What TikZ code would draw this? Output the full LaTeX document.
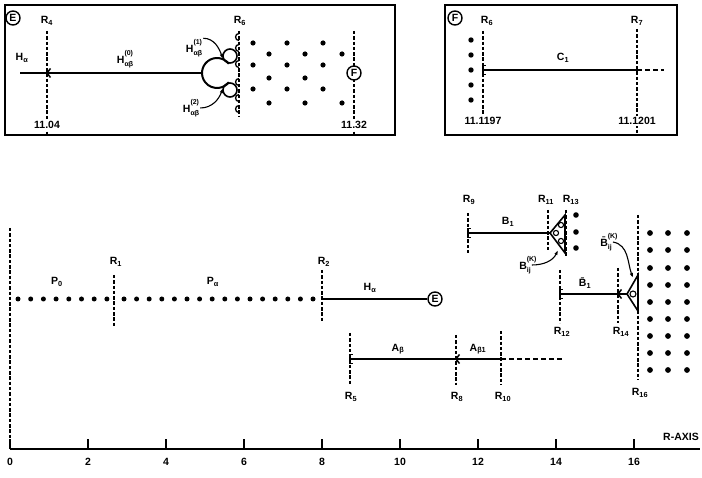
\documentclass[tikz,border=0pt]{standalone}
\usepackage{fontspec}
\setmainfont{Liberation Sans}
\usetikzlibrary{arrows.meta}
\newcommand{\supsub}[3]{#1\makebox[0pt][l]{\raisebox{1.35ex}{\scriptsize #2}}\raisebox{-0.55ex}{\scriptsize #3}}
\begin{document}
\begin{tikzpicture}[x=1pt,y=1pt,
    every node/.append style={font=\bfseries\fontsize{10.5}{12}\selectfont, inner sep=1pt},
    rline/.style={dash pattern=on 3.5pt off 1.8pt, line width=1.3pt},
    bond/.style={line width=2pt},
    tail/.style={dash pattern=on 5pt off 3pt, line width=2pt},
    tag/.style={circle, draw, line width=1.4pt, inner sep=0.5pt, minimum size=14pt},
    lead/.style={line width=1.1pt, -{Latex[length=5pt,width=3.5pt]}},
    brak/.pic={\draw[line width=1.5pt] (2.5,4.5) -- (0,4.5) -- (0,-4.5) -- (2.5,-4.5);},
    wedge/.pic={\draw[line width=1.5pt] (3.5,4.5) -- (0,0) -- (3.5,-4.5);}]
\useasboundingbox (0,0) rectangle (702,477);

% box E
\draw[line width=1.6pt] (5,342) rectangle (395,472);
\node[tag] (tagE) at (13,459) {E};
\node (r4) at (47,456) {R\textsubscript{4}};
\draw[rline] (47,446) -- (47,342);
\node[fill=white] (v1104) at (47,352) {11.04};
\node (hae) at (22,419) {H\textsubscript{α}};
\coordinate (hs) at (20,404);
\coordinate (hc) at (202,404);
\draw[bond] (hs) -- (hc);
\pic at (47,404) {wedge};
\node (h0) at (125,418) {\supsub{H}{(0)}{αβ}};
\draw[bond] (217,404) ++(38:15) arc[start angle=38, end angle=322, radius=15];
\draw[line width=1.6pt] (230,421) circle (7) (230,387) circle (7);
\foreach \y in {440,429,413,395,379,368}
  \draw[line width=1.3pt] (239,\y) ++(90:3.5) arc[start angle=90, end angle=270, radius=3.5];
\draw[rline] (239,446) -- (239,360);
\node (r6a) at (240,456) {R\textsubscript{6}};
\node (h1) at (194,429) {\supsub{H}{(1)}{αβ}};
\node (h2) at (191,369) {\supsub{H}{(2)}{αβ}};
\draw[lead] (h1.north east) to[out=0, in=110] (223,418);
\draw[lead] (h2.east) to[out=0, in=-110] (223,389);
\foreach \x in {253,287,323} \foreach \y in {434,412,388} \fill (\x,\y) circle (2.6);
\foreach \x in {269,305} \foreach \y in {423,399,374} \fill (\x,\y) circle (2.6);
\foreach \y in {423,374} \fill (342,\y) circle (2.6);
\draw[rline] (354,446) -- (354,342);
\node[tag, fill=white] (F1) at (354,404) {F};
\node[fill=white] (v1132) at (354,352) {11.32};

% box F
\draw[line width=1.6pt] (445,342) rectangle (677,472);
\node[tag] (tagF) at (455,459) {F};
\node (r6) at (487,456) {R\textsubscript{6}};
\draw[rline] (483,446) -- (483,363);
\node (v1197) at (483,356) {11.1197};
\node (r7) at (637,456) {R\textsubscript{7}};
\draw[rline] (637,448) -- (637,342);
\node[fill=white] (v1201) at (637,356) {11.1201};
\coordinate (cs) at (483,407);
\coordinate (ce) at (637,407);
\coordinate (ct) at (664,407);
\draw[bond] (cs) -- (ce);
\draw[tail] (ce) -- (ct);
\pic at (cs) {brak};
\node (c1) at (563,419) {C\textsubscript{1}};
\foreach \y in {437,422,407,392,377} \fill (471,\y) circle (2.7);

% main chart
\draw[rline] (10,249) -- (10,28);
\draw[line width=1.8pt] (10,28) -- (700,28);
\foreach \k in {0,2,...,16} {
  \draw[line width=1.3pt] (10+39*\k,28) -- ++(0,10);
  \node (t\k) at (10+39*\k,15) {\k};
}
\node (raxis) at (681,40) {R-AXIS};
\foreach \i in {0,...,7} \fill (18+12.7*\i,178) circle (2.5);
\foreach \i in {0,...,15} \fill (124+12.6*\i,178) circle (2.5);
\draw[rline] (114,202) -- (114,150);
\node (r1) at (116,215) {R\textsubscript{1}};
\node (p0) at (57,195) {P\textsubscript{0}};
\node (pa) at (213,195) {P\textsubscript{α}};
\draw[rline] (322,207) -- (322,155);
\node (r2) at (324,215) {R\textsubscript{2}};
\coordinate (hb) at (322,178);
\node[tag] (E) at (435,178) {E};
\draw[bond] (hb) -- (E);
\node (ha) at (370,189) {H\textsubscript{α}};

% A branch
\draw[rline] (350,144) -- (350,92);
\node (r5) at (351,80) {R\textsubscript{5}};
\draw[rline] (456,142) -- (456,92);
\node (r8) at (457,80) {R\textsubscript{8}};
\draw[rline] (501,146) -- (501,92);
\node (r10) at (503,80) {R\textsubscript{10}};
\coordinate (as) at (350,118);
\coordinate (ae) at (501,118);
\coordinate (at) at (562,118);
\draw[bond] (as) -- (ae);
\draw[tail] (ae) -- (at);
\pic at (as) {brak};
\pic at (456,118) {wedge};
\node (ab) at (398,128) {A\textsubscript{β}};
\node (ab1) at (478,128) {A\textsubscript{β1}};

% B branch, upper
\draw[rline] (468,264) -- (468,224);
\node (r9) at (469,277) {R\textsubscript{9}};
\draw[rline] (548,267) -- (548,227);
\node (r11) at (546,277) {R\textsubscript{11}};
\draw[rline] (566,267) -- (566,220);
\node (r13) at (571,277) {R\textsubscript{13}};
\coordinate (bs) at (468,244);
\coordinate (bt) at (550,244);
\draw[bond] (bs) -- (bt);
\pic at (bs) {brak};
\draw[line width=1.6pt] (bt) -- (565,262) -- (565,224) -- cycle;
\foreach \p in {(556,244),(561,252),(561,236)} \draw[line width=1.1pt] \p circle (2.6);
\foreach \y in {262,245,229} \fill (576,\y) circle (2.8);
\node (b1) at (508,255) {B\textsubscript{1}};
\node (bk) at (525,212) {\supsub{B}{(K)}{ij}};
\draw[lead] (bk.east) to[out=0, in=-115] (558,227);

% B branch, lower
\draw[rline] (560,207) -- (560,154);
\node (r12) at (562,145) {R\textsubscript{12}};
\draw[rline] (618,209) -- (618,154);
\node (r14) at (621,145) {R\textsubscript{14}};
\draw[rline] (638,262) -- (638,97);
\node (r16) at (640,84) {R\textsubscript{16}};
\coordinate (ds) at (560,183);
\coordinate (dt) at (627,183);
\draw[bond] (ds) -- (dt);
\pic at (ds) {brak};
\pic at (618,183) {wedge};
\draw[line width=1.6pt] (dt) -- (638,202) -- (638,166) -- cycle;
\draw[line width=1.1pt] (633,183) circle (3);
\node (bb1) at (585,194) {\={B}\textsubscript{1}};
\node (bbk) at (606,235) {\supsub{\={B}}{(K)}{ij}};
\draw[lead] (bbk.east) to[out=-10, in=110] (633,199);
\foreach \x in {650,668,687} \foreach \y in {244,227,209,192,175,158,141,124,107}
  \fill (\x,\y) circle (2.9);
\end{tikzpicture}
\end{document}
